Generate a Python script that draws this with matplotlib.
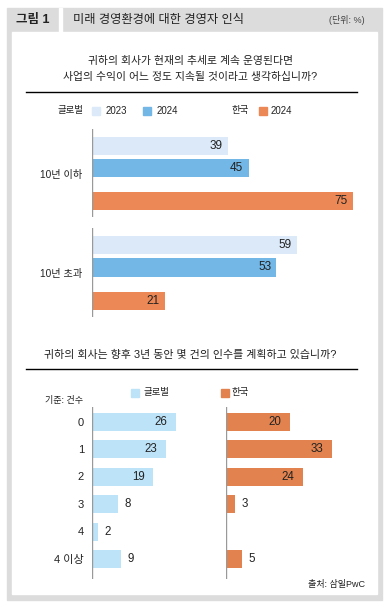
import matplotlib
matplotlib.use("Agg")
import matplotlib.pyplot as plt
from matplotlib.patches import Rectangle

# latin/digits from Liberation Sans, hangul falls through to Noto CJK
plt.rcParams['font.family'] = ['Liberation Sans', 'Noto Sans CJK KR', 'DejaVu Sans']

# ---- data ----
q1_categories = ['10년 이하', '10년 초과']
q1_global_2023 = [39, 59]
q1_global_2024 = [45, 53]
q1_korea_2024 = [75, 21]

q2_categories = ['0', '1', '2', '3', '4', '4 이상']
q2_global = [26, 23, 19, 8, 2, 9]
q2_korea = [20, 33, 24, 3, None, 5]

C_2023 = '#dbe9f8'
C_2024 = '#72b7e6'
C_KR = '#ec8855'
C_GL2 = '#bde3f8'
C_KR2 = '#e2834f'
GRAY = '#dcdcdc'
AX_GRAY = '#999999'
TXT = '#222222'

W, H = 387, 607
fig = plt.figure(figsize=(W / 100, H / 100), dpi=100, facecolor='white')


def box(x0, y0, x1, y1):
    """pixel box (top-left origin) -> figure fraction rect"""
    return [x0 / W, 1 - y1 / H, (x1 - x0) / W, (y1 - y0) / H]


def rect(x0, y0, x1, y1, color):
    fig.patches.append(Rectangle((x0 / W, 1 - y1 / H), (x1 - x0) / W, (y1 - y0) / H,
                                 transform=fig.transFigure, color=color, zorder=-5))


def ftext(x, y, s, **kw):
    kw.setdefault('color', TXT)
    fig.text(x / W, 1 - y / H, s, **kw)


def new_axes(x0, y0, x1, y1):
    ax = fig.add_axes(box(x0, y0, x1, y1))
    ax.set_zorder(5)
    ax.patch.set_visible(False)
    ax.axis('off')
    return ax


# frame
rect(7, 8, 382, 600, GRAY)
rect(59, 8, 62, 32, 'white')
rect(12, 32, 377, 594, 'white')

ftext(33, 20, '그림 1', fontsize=9, fontweight='bold', ha='center', va='center')
ftext(73, 20, '미래 경영환경에 대한 경영자 인식', fontsize=8.8, ha='left', va='center')
ftext(365, 20, '(단위: %)', fontsize=6.5, ha='right', va='center', color='#444444')

# question 1
ftext(190, 61, '귀하의 회사가 현재의 추세로 계속 운영된다면', fontsize=7.8, ha='center', va='center')
ftext(190, 77, '사업의 수익이 어느 정도 지속될 것이라고 생각하십니까?', fontsize=7.8, ha='center', va='center')
fig.add_artist(plt.Line2D([26 / W, 357 / W], [1 - 92 / H] * 2, color='black', lw=1.0))

# legend row 1
ftext(83, 111, '글로벌', fontsize=6.8, ha='right', va='center')
rect(92, 107, 100, 115, C_2023)
ftext(106, 111, '2023', fontsize=7, ha='left', va='center')
rect(143, 107, 151, 115, C_2024)
ftext(157, 111, '2024', fontsize=7, ha='left', va='center')
ftext(249, 111, '한국', fontsize=6.8, ha='right', va='center')
rect(259, 107, 267, 115, C_KR)
ftext(271, 111, '2024', fontsize=7, ha='left', va='center')

# question 1 bars (one axes per category)
q1_boxes = [(129, 217), (228, 317)]
scale1 = 3.48  # px per unit
for i, (y0, y1) in enumerate(q1_boxes):
    ax = new_axes(92, y0, 357, y1)
    ax.set_xlim(0, 265 / scale1)
    ax.set_ylim(3.23, -0.77)
    ax.axvline(0, color=AX_GRAY, lw=1.0)
    vals = [q1_global_2023[i], q1_global_2024[i], q1_korea_2024[i]]
    cols = [C_2023, C_2024, C_KR]
    pos = [0, 1, 2.5]
    ax.barh(pos, vals, height=0.82, color=cols)
    for p, v in zip(pos, vals):
        ax.text(v - 1.5, p, str(v), ha='right', va='center', fontsize=8.5, color=TXT)
    ftext(82, (y0 + y1) / 2 + 2, q1_categories[i], fontsize=7.3, ha='right', va='center')

# question 2
ftext(190, 355, '귀하의 회사는 향후 3년 동안 몇 건의 인수를 계획하고 있습니까?', fontsize=7.9,
      ha='center', va='center')
fig.add_artist(plt.Line2D([26 / W, 357 / W], [1 - 369 / H] * 2, color='black', lw=1.0))

rect(131, 389, 139, 397, C_GL2)
ftext(143, 393, '글로벌', fontsize=6.8, ha='left', va='center')
rect(221, 389, 229, 397, C_KR2)
ftext(232, 393, '한국', fontsize=6.8, ha='left', va='center')
ftext(83, 400, '기준: 건수', fontsize=6.5, ha='right', va='center')

scale2 = 3.22
y_top, y_bot = 407, 579
panels = [(92, 218, q2_global, C_GL2), (225.7, 357, q2_korea, C_KR2)]
for k, (x0, x1, vals, col) in enumerate(panels):
    ax = new_axes(x0, y_top, x1, y_bot)
    ax.set_xlim(0, (x1 - x0) / scale2)
    ax.set_ylim(5.73, -0.55)
    ax.axvline(0, color=AX_GRAY, lw=1.0)
    for j, v in enumerate(vals):
        if v is None:
            continue
        ax.barh(j, v, height=0.66, color=col)
        if v >= 15:
            ax.text(v - 2.7, j, str(v), ha='right', va='center', fontsize=8.3, color=TXT)
        else:
            ax.text(v + 2.0, j, str(v), ha='left', va='center', fontsize=8.3, color=TXT)
    if k == 0:
        for j, c in enumerate(q2_categories):
            ftext(84, y_top + (j + 0.55) * 27.4 + 0.5, c, fontsize=8, ha='right', va='center')

ftext(365, 585, '출처: 삼일PwC', fontsize=6.5, ha='right', va='center')

fig.savefig('out.png', dpi=100, facecolor='white')
